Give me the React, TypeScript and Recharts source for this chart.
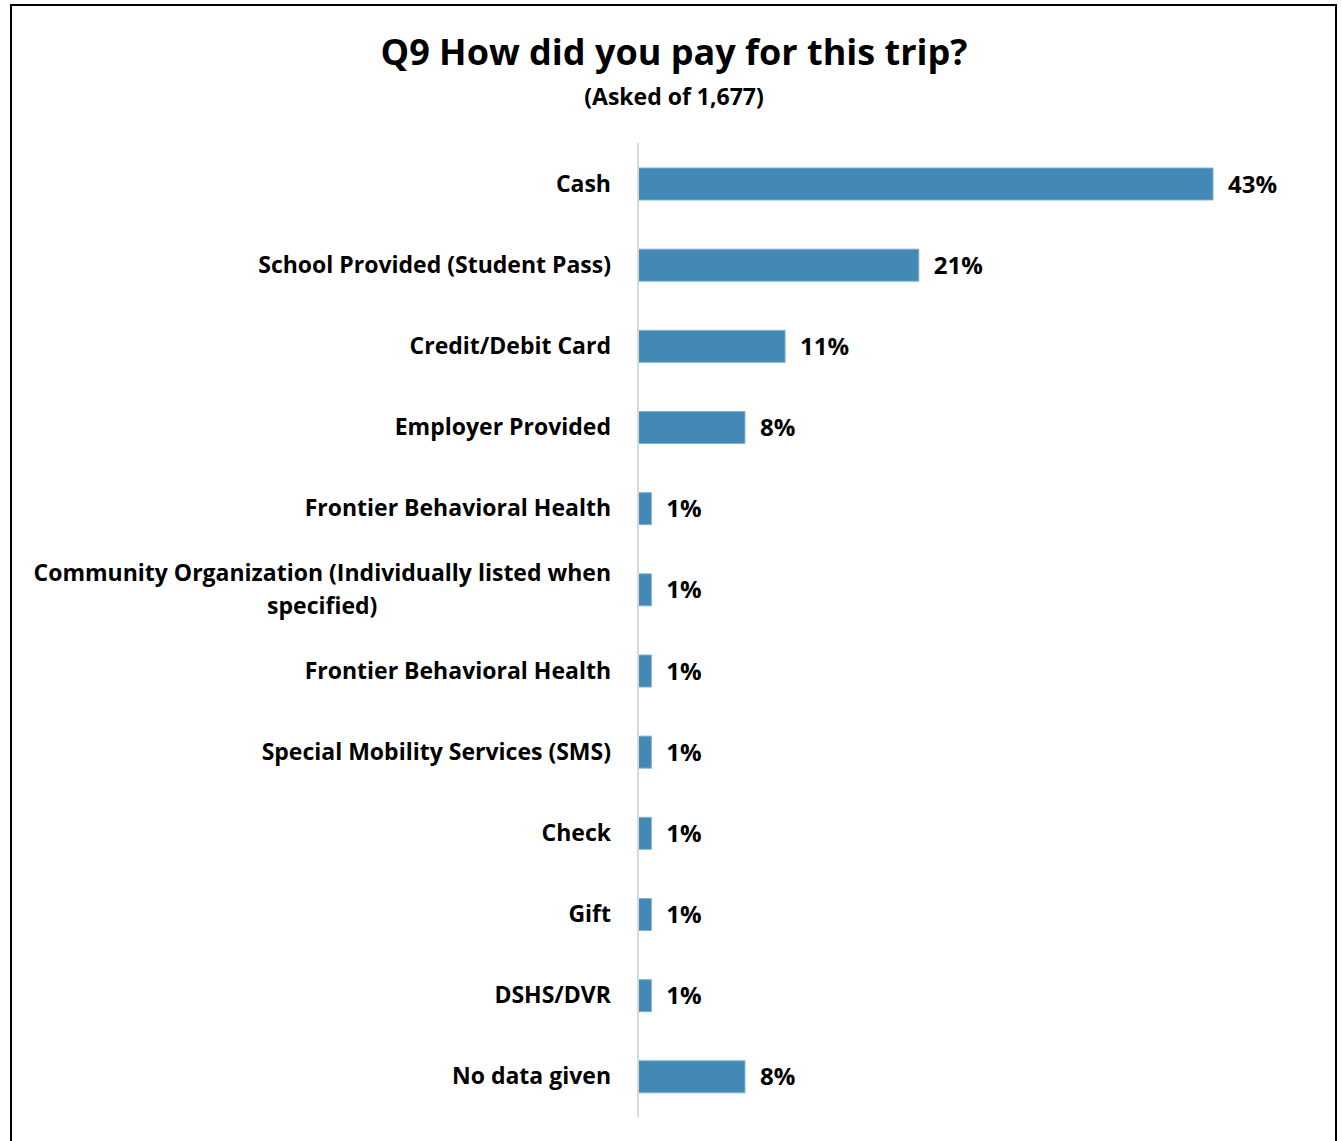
import React, { useLayoutEffect, useRef, useState } from "react";
import { BarChart, Bar, XAxis, YAxis, LabelList } from "recharts";

const categories = [
  "Cash",
  "School Provided (Student Pass)",
  "Credit/Debit Card",
  "Employer Provided",
  "Frontier Behavioral Health",
  "Community Organization (Individually listed when specified)",
  "Frontier Behavioral Health",
  "Special Mobility Services (SMS)",
  "Check",
  "Gift",
  "DSHS/DVR",
  "No data given",
];
const values = [43, 21, 11, 8, 1, 1, 1, 1, 1, 1, 1, 8];

const data = categories.map((c, i) => ({ key: `c${i}`, name: c, value: values[i] }));

const FONT = "'Open Sans', Lato, sans-serif";
const MAX_CHARS = 50;

function wrap(label: string): string[] {
  const words = label.split(" ");
  const lines: string[] = [];
  let cur = "";
  for (const w of words) {
    const next = cur ? cur + " " + w : w;
    if (next.length > MAX_CHARS && cur) {
      lines.push(cur);
      cur = w;
    } else cur = next;
  }
  if (cur) lines.push(cur);
  return lines;
}

const CatTick = (props: any) => {
  const { x, y, payload } = props;
  const idx = payload.index ?? 0;
  const label = data[idx] ? data[idx].name : String(payload.value);
  const lines = wrap(label);
  const ref = useRef<SVGTextElement>(null);
  const [w, setW] = useState(0);
  useLayoutEffect(() => {
    if (ref.current) setW(ref.current.getComputedTextLength());
  }, [label]);
  const lh = 33;
  const start = y - ((lines.length - 1) * lh) / 2;
  return (
    <g>
      {lines.map((ln, i) =>
        i === 0 ? (
          <text key={i} ref={ref} x={x} y={start} dy="0.35em" textAnchor="end" fontFamily={FONT} fontWeight={700} fontSize={23} fill="#000">
            {ln}
          </text>
        ) : (
          <text key={i} x={x - w / 2} y={start + i * lh} dy="0.35em" textAnchor="middle" fontFamily={FONT} fontWeight={700} fontSize={23} fill="#000">
            {ln}
          </text>
        )
      )}
    </g>
  );
};

export default function App() {
  return (
    <div style={{ position: "absolute", left: 0, top: 0, width: 1342, height: 1141, overflow: "hidden", background: "#fff" }}>
      <div style={{ position: "absolute", left: 10, top: 4, width: 1323, height: 1200, border: "2px solid #000", boxSizing: "content-box" }} />
      <div style={{ position: "absolute", left: 0, width: 1348, top: 29, textAlign: "center", fontFamily: FONT, fontWeight: 700, fontSize: 36, lineHeight: "46px", color: "#000" }}>
        Q9 How did you pay for this trip?
      </div>
      <div style={{ position: "absolute", left: 0, width: 1348, top: 82, textAlign: "center", fontFamily: FONT, fontWeight: 700, fontSize: 23, lineHeight: "28px", color: "#000" }}>
        (Asked of 1,677)
      </div>
      <div style={{ position: "absolute", left: 0, top: 0 }}>
        <BarChart
          width={1342}
          height={1141}
          data={data}
          layout="vertical"
          margin={{ top: 143, right: 129, bottom: 24, left: 0 }}
          barSize={32}
        >
          <XAxis type="number" domain={[0, 43]} hide />
          <YAxis
            type="category"
            dataKey="key"
            width={638}
            tickLine={false}
            tickSize={0}
            tickMargin={27}
            axisLine={{ stroke: "#d9d9d9", strokeWidth: 2 }}
            tick={<CatTick />}
            interval={0}
          />
          <Bar dataKey="value" fill="#428ab5" stroke="#7fb1d3" strokeWidth={1} isAnimationActive={false}>
            <LabelList
              dataKey="value"
              position="right"
              offset={15}
              formatter={(v: any) => `${v}%`}
              style={{ fontFamily: FONT, fontWeight: 700, fontSize: 24, fill: "#000" }}
            />
          </Bar>
        </BarChart>
      </div>
    </div>
  );
}
